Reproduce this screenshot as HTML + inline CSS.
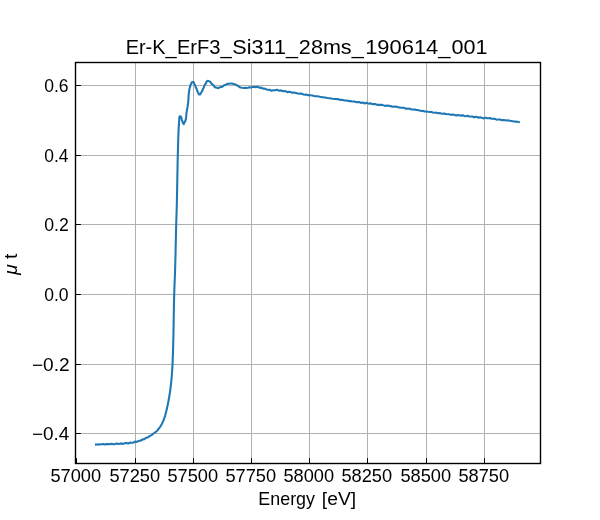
<!DOCTYPE html>
<html><head><meta charset="utf-8"><style>
html,body{margin:0;padding:0;background:#fff;width:600px;height:520px;overflow:hidden;font-family:"Liberation Sans",sans-serif;}
svg{display:block;will-change:transform}
</style></head><body>
<svg width="600" height="520" viewBox="0 0 600 520">
<rect width="600" height="520" fill="#fff"/>
<path d="M135.50 62.50V463.50M193.50 62.50V463.50M251.50 62.50V463.50M309.50 62.50V463.50M367.50 62.50V463.50M426.50 62.50V463.50M484.50 62.50V463.50M75.50 85.50H540.50M75.50 155.50H540.50M75.50 224.50H540.50M75.50 294.50H540.50M75.50 364.50H540.50M75.50 433.50H540.50" stroke="#b0b0b0" stroke-width="1" fill="none"/>
<path d="M96.00 444.61 L97.32 444.55 L98.63 444.32 L100.00 444.51 L101.63 444.24 L103.31 444.05 L105.00 444.43 L106.67 444.01 L108.33 444.09 L110.00 444.30 L111.67 443.72 L113.33 444.25 L115.00 444.09 L116.67 443.59 L118.33 444.10 L120.00 443.71 L121.67 443.38 L123.33 443.88 L125.00 443.12 L126.67 443.05 L128.34 443.48 L130.00 442.55 L131.67 442.70 L133.34 442.64 L135.00 441.55 L136.27 441.96 L137.54 441.53 L138.80 440.81 L140.35 440.83 L141.71 440.00 L143.02 439.26 L144.34 439.31 L145.69 438.05 L147.03 437.60 L148.30 437.35 L149.50 435.94 L150.66 435.75 L151.76 434.96 L153.05 433.70 L154.27 433.13 L155.46 432.08 L156.56 431.19 L157.63 430.17 L158.53 428.92 L159.35 427.98 L160.20 426.72 L160.97 425.46 L161.73 424.18 L162.33 422.98 L162.89 421.67 L163.51 420.32 L164.07 418.65 L164.58 417.39 L165.03 416.09 L165.45 414.17 L165.84 413.23 L166.21 411.38 L166.53 410.31 L166.88 408.83 L167.22 407.07 L167.54 405.80 L167.82 404.59 L168.11 402.59 L168.39 401.80 L168.66 400.00 L168.91 398.30 L169.14 397.67 L169.39 395.78 L169.63 393.88 L169.86 393.26 L170.08 391.02 L170.28 389.71 L170.48 388.59 L170.66 386.32 L170.84 385.56 L171.01 383.93 L171.18 381.84 L171.33 381.03 L171.46 379.28 L171.58 377.70 L171.70 376.95 L171.80 375.32 L171.91 373.73 L172.01 372.68 L172.11 371.05 L172.19 370.03 L172.27 368.88 L172.36 366.83 L172.45 365.82 L172.52 364.27 L172.62 361.85 L172.67 360.80 L172.73 359.14 L172.79 357.80 L172.85 356.27 L172.91 354.21 L172.97 352.85 L173.03 350.89 L173.09 348.78 L173.14 346.95 L173.20 344.96 L173.29 341.51 L173.37 337.68 L173.45 333.35 L173.53 329.26 L173.61 324.65 L173.69 319.83 L173.76 315.35 L173.84 310.54 L173.93 306.18 L174.01 302.11 L174.10 297.69 L174.20 294.34 L174.27 291.97 L174.34 289.45 L174.41 287.90 L174.49 285.74 L174.57 283.77 L174.64 282.39 L174.72 279.92 L174.80 278.21 L174.88 276.65 L174.95 273.95 L175.03 272.34 L175.10 270.16 L175.20 266.21 L175.29 263.16 L175.39 259.23 L175.49 254.82 L175.58 251.32 L175.67 246.58 L175.77 242.57 L175.86 239.17 L175.94 234.45 L176.03 231.00 L176.12 227.81 L176.20 224.13 L176.25 222.59 L176.31 221.01 L176.36 218.88 L176.41 217.96 L176.46 216.17 L176.50 214.55 L176.55 213.41 L176.60 211.65 L176.65 210.22 L176.70 208.86 L176.75 206.78 L176.80 205.00 L176.88 201.69 L176.96 197.85 L177.04 193.90 L177.12 189.46 L177.21 185.10 L177.29 180.71 L177.37 176.01 L177.45 171.59 L177.54 167.15 L177.62 162.90 L177.71 159.12 L177.80 155.33 L177.86 153.07 L177.93 150.57 L177.99 147.90 L178.06 146.02 L178.12 143.45 L178.19 141.06 L178.26 139.50 L178.32 136.81 L178.39 135.06 L178.46 133.70 L178.53 131.34 L178.60 129.93 L178.68 128.65 L178.76 126.45 L178.85 125.82 L178.97 123.85 L179.10 121.55 L179.18 120.74 L179.24 118.92 L179.38 117.19 L179.70 116.26 L180.92 116.43 L181.38 118.11 L181.82 119.78 L182.32 121.05 L182.86 122.94 L183.78 124.24 L184.58 122.19 L185.17 121.31 L185.67 119.88 L186.02 118.06 L186.21 116.92 L186.30 114.86 L186.43 112.97 L186.68 111.75 L186.99 109.54 L187.32 108.05 L187.61 106.58 L187.84 104.63 L188.03 103.50 L188.20 101.93 L188.35 100.35 L188.48 99.01 L188.54 97.11 L188.60 95.54 L188.73 93.67 L188.98 91.88 L189.18 90.45 L189.42 89.13 L189.70 87.68 L190.21 86.18 L190.73 84.43 L191.29 83.38 L192.10 82.00 L193.48 81.96 L194.25 83.87 L194.82 84.80 L195.40 86.20 L195.98 87.84 L196.54 88.78 L197.11 90.35 L197.64 92.01 L198.14 92.44 L198.84 94.51 L200.22 94.39 L201.09 92.63 L201.90 91.65 L202.50 90.24 L203.02 88.70 L203.55 88.06 L204.20 86.14 L205.06 84.35 L205.69 83.78 L206.70 81.46 L207.75 80.73 L209.32 81.35 L210.27 81.78 L211.25 83.39 L212.27 84.25 L213.36 85.07 L214.48 86.79 L215.66 87.52 L216.92 87.75 L218.29 88.22 L219.73 87.34 L221.13 86.89 L222.36 86.73 L223.72 85.46 L225.00 85.11 L226.33 84.39 L227.65 83.73 L228.99 83.79 L230.33 83.47 L231.69 83.49 L233.03 83.84 L234.31 84.11 L235.80 84.64 L237.22 85.49 L238.48 86.17 L239.67 87.17 L240.89 87.56 L242.18 87.81 L243.59 87.94 L245.05 87.72 L246.49 88.01 L247.98 87.74 L249.49 87.23 L251.00 87.46 L252.50 86.99 L254.05 86.87 L255.59 87.29 L257.07 86.77 L258.72 87.30 L260.06 87.86 L261.34 87.59 L262.66 88.58 L263.95 88.65 L265.29 88.79 L266.94 89.71 L268.47 89.75 L270.04 89.90 L271.54 90.82 L273.05 90.25 L274.37 90.21 L275.67 90.19 L276.99 89.74 L278.30 90.45 L279.65 90.61 L281.17 90.40 L282.77 91.14 L284.06 91.15 L285.71 91.20 L287.21 92.15 L288.82 91.89 L290.52 92.01 L292.28 92.75 L294.08 92.61 L296.14 93.09 L298.54 93.78 L301.03 93.55 L303.60 94.57 L304.89 94.68 L306.18 94.54 L307.46 95.13 L310.00 95.26 L312.50 95.53 L315.00 96.25 L317.50 96.31 L320.00 96.81 L322.50 97.19 L325.00 97.54 L327.48 97.96 L329.95 98.32 L332.41 98.67 L334.90 98.96 L337.42 99.10 L340.00 99.87 L341.44 99.87 L342.91 100.03 L344.40 100.46 L345.90 100.44 L347.41 100.65 L348.93 101.13 L350.45 100.93 L351.98 101.51 L353.50 101.52 L355.01 101.61 L356.51 102.28 L358.00 102.03 L359.42 102.09 L360.80 102.88 L362.16 102.56 L363.51 102.76 L364.86 103.46 L366.21 102.84 L367.58 103.32 L368.98 103.67 L370.41 103.31 L371.88 104.02 L373.41 104.15 L375.00 103.93 L377.28 104.90 L379.71 104.78 L382.25 104.90 L384.89 105.88 L387.59 105.54 L390.32 106.12 L393.07 106.78 L395.80 106.59 L398.49 107.37 L401.10 107.76 L403.61 107.75 L406.00 108.67 L407.86 108.66 L409.67 108.83 L411.44 109.54 L413.17 109.44 L414.87 109.60 L416.55 110.08 L418.21 110.14 L419.86 110.57 L421.51 110.92 L423.16 110.91 L424.82 111.46 L426.50 111.46 L428.14 111.73 L429.77 111.96 L431.40 111.91 L433.02 112.41 L434.64 112.72 L436.26 112.62 L437.88 113.22 L439.50 113.06 L441.12 113.41 L442.74 113.74 L444.37 113.63 L446.00 114.06 L447.66 114.22 L449.33 114.19 L451.00 114.86 L452.69 114.53 L454.37 114.85 L456.05 115.48 L457.73 115.12 L459.40 115.24 L461.07 115.79 L462.72 115.16 L464.37 116.04 L466.00 116.19 L467.56 115.71 L469.17 116.55 L470.79 116.51 L472.43 116.50 L474.06 117.26 L475.66 116.87 L477.23 116.97 L478.75 117.78 L480.20 117.30 L481.57 117.85 L484.00 118.38 L485.69 117.64 L487.11 118.18 L488.47 118.31 L490.00 117.94 L491.52 118.80 L493.15 118.69 L494.84 118.85 L496.57 119.67 L498.30 119.44 L500.00 119.58 L501.73 120.14 L503.55 120.04 L505.37 120.30 L507.10 120.55 L508.67 120.38 L510.00 120.80 L511.33 121.02 L512.72 121.22 L514.32 121.53 L515.78 121.66 L517.31 121.82 L518.80 122.10" stroke="#1f77b4" stroke-width="2.08" fill="none" stroke-linejoin="round" stroke-linecap="square"/>
<path d="M76.50 463.50V458.10M135.50 463.50V458.10M193.50 463.50V458.10M251.50 463.50V458.10M309.50 463.50V458.10M367.50 463.50V458.10M426.50 463.50V458.10M484.50 463.50V458.10M75.50 85.50H80.90M75.50 155.50H80.90M75.50 224.50H80.90M75.50 294.50H80.90M75.50 364.50H80.90M75.50 433.50H80.90" stroke="#000" stroke-width="1" fill="none"/>
<rect x="75.50" y="62.50" width="465.00" height="401.00" fill="none" stroke="#000" stroke-width="1.4" stroke-linejoin="miter"/>
<g>
<text transform="translate(50.420 481.500) scale(1.03914 1)" font-size="17.571" font-family="Liberation Sans, sans-serif" fill="#000">57000</text>
<text transform="translate(109.420 481.500) scale(1.03914 1)" font-size="17.571" font-family="Liberation Sans, sans-serif" fill="#000">57250</text>
<text transform="translate(167.420 481.500) scale(1.03914 1)" font-size="17.571" font-family="Liberation Sans, sans-serif" fill="#000">57500</text>
<text transform="translate(225.420 481.500) scale(1.03914 1)" font-size="17.571" font-family="Liberation Sans, sans-serif" fill="#000">57750</text>
<text transform="translate(283.420 481.500) scale(1.03914 1)" font-size="17.571" font-family="Liberation Sans, sans-serif" fill="#000">58000</text>
<text transform="translate(341.420 481.500) scale(1.03914 1)" font-size="17.571" font-family="Liberation Sans, sans-serif" fill="#000">58250</text>
<text transform="translate(400.420 481.500) scale(1.03914 1)" font-size="17.571" font-family="Liberation Sans, sans-serif" fill="#000">58500</text>
<text transform="translate(458.420 481.500) scale(1.03914 1)" font-size="17.571" font-family="Liberation Sans, sans-serif" fill="#000">58750</text>
<text transform="translate(44.248 91.800) scale(0.98321 1)" font-size="17.857" font-family="Liberation Sans, sans-serif" fill="#000">0.6</text>
<text transform="translate(44.253 162.200) scale(0.97576 1)" font-size="17.857" font-family="Liberation Sans, sans-serif" fill="#000">0.4</text>
<text transform="translate(44.242 231.000) scale(0.99077 1)" font-size="17.857" font-family="Liberation Sans, sans-serif" fill="#000">0.2</text>
<text transform="translate(44.248 300.600) scale(0.98321 1)" font-size="17.857" font-family="Liberation Sans, sans-serif" fill="#000">0.0</text>
<text transform="translate(31.944 371.000) scale(1.07059 1)" font-size="17.857" font-family="Liberation Sans, sans-serif" fill="#000">−0.2</text>
<text transform="translate(31.954 439.800) scale(1.05926 1)" font-size="17.857" font-family="Liberation Sans, sans-serif" fill="#000">−0.4</text>
<text transform="translate(258.319 504.500) scale(1.00766 1)" font-size="17.754" font-family="Liberation Sans, sans-serif" fill="#000">Energy</text>
<text transform="translate(321.799 504.500) scale(1.08703 1)" font-size="17.754" font-family="Liberation Sans, sans-serif" fill="#000">[eV]</text>
<text transform="translate(125.655 53.500) scale(1.02293 1)" font-size="19.493" font-family="Liberation Sans, sans-serif" fill="#000">Er-K_</text>
<text transform="translate(176.939 53.500) scale(1.03280 1)" font-size="19.493" font-family="Liberation Sans, sans-serif" fill="#000">ErF3_</text>
<text transform="translate(232.269 53.500) scale(1.10896 1)" font-size="19.493" font-family="Liberation Sans, sans-serif" fill="#000">Si311_</text>
<text transform="translate(298.870 53.500) scale(1.10835 1)" font-size="19.493" font-family="Liberation Sans, sans-serif" fill="#000">28ms_</text>
<text transform="translate(365.198 53.500) scale(1.12339 1)" font-size="19.493" font-family="Liberation Sans, sans-serif" fill="#000">190614_</text>
<text transform="translate(451.384 53.500) scale(1.11044 1)" font-size="19.493" font-family="Liberation Sans, sans-serif" fill="#000">001</text>
<text transform="translate(16.500 274.718) rotate(-90) scale(1.02139 1)" font-size="18.700" font-family="Liberation Sans, sans-serif" fill="#000"><tspan font-style="italic">μ</tspan> t</text>
</g>
</svg>
</body></html>
